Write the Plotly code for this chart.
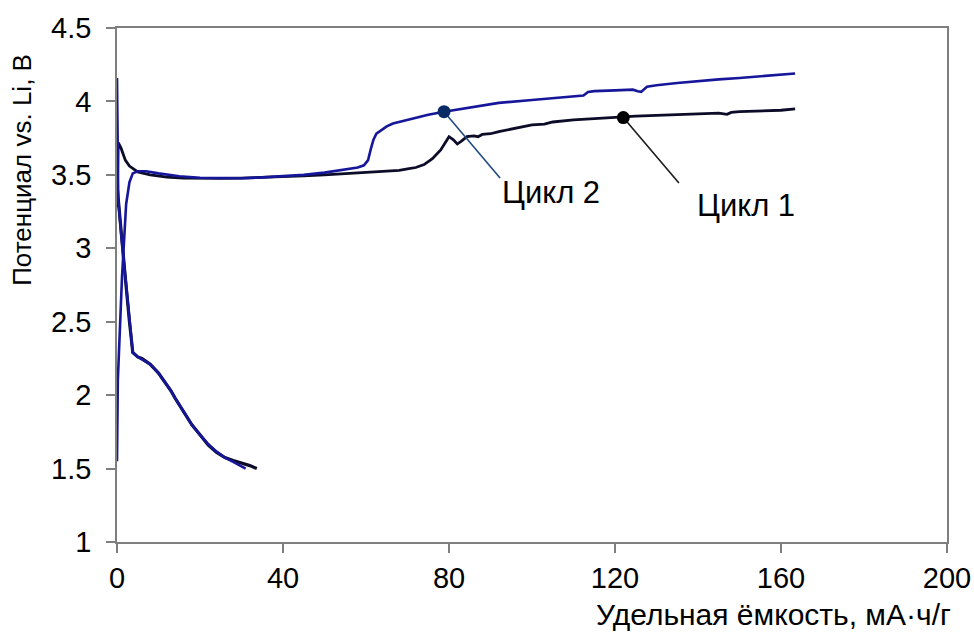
import plotly.graph_objects as go

# Cycle 1 (black) charge
c1_ch_x = [0, 0.3, 1, 2, 3, 5, 8, 12, 16, 20, 25, 30, 35, 40, 45, 50, 55, 60, 65, 68, 70, 72, 74, 76, 78, 79, 80, 81, 82, 83, 84.3, 86, 87, 88, 90, 92, 95, 97, 100, 103, 105, 110, 115, 120, 125, 130, 135, 140, 145, 147, 148, 150, 155, 160, 163.4]
c1_ch_y = [3.28, 3.72, 3.68, 3.6, 3.56, 3.52, 3.5, 3.485, 3.478, 3.475, 3.476, 3.478, 3.482, 3.487, 3.493, 3.5, 3.508, 3.515, 3.525, 3.53, 3.54, 3.55, 3.57, 3.61, 3.67, 3.72, 3.76, 3.74, 3.71, 3.73, 3.76, 3.765, 3.76, 3.775, 3.78, 3.795, 3.81, 3.82, 3.84, 3.845, 3.86, 3.875, 3.885, 3.892, 3.9, 3.905, 3.91, 3.915, 3.92, 3.912, 3.925, 3.93, 3.935, 3.94, 3.95]
# Cycle 1 (black) discharge
c1_dis_x = [0.1, 0.3, 1, 2, 3, 3.8, 5, 6, 7, 8, 9, 10, 11, 12, 13, 14, 16, 18, 20, 22, 24, 26, 28, 30, 32, 33.7]
c1_dis_y = [3.4, 3.33, 3.1, 2.8, 2.5, 2.29, 2.26, 2.25, 2.23, 2.21, 2.18, 2.15, 2.11, 2.07, 2.03, 1.98, 1.89, 1.80, 1.73, 1.66, 1.61, 1.575, 1.555, 1.54, 1.52, 1.5]
# Cycle 2 (blue) charge
c2_ch_x = [0, 0.2, 1.2, 2.2, 3, 3.8, 5, 7, 10, 15, 20, 25, 30, 35, 40, 45, 50, 55, 58, 59.5, 60.5, 61.2, 61.8, 62.5, 63.4, 65, 66.5, 70, 72, 75, 78.8, 85, 92, 100, 106, 112.4, 113.5, 115, 120, 124.3, 125.5, 126.3, 127.7, 130, 135, 140.5, 145, 150, 155, 160, 163.4]
c2_ch_y = [1.55, 2.1, 2.8, 3.3, 3.45, 3.51, 3.525, 3.525, 3.51, 3.49, 3.48, 3.477, 3.477, 3.483, 3.49, 3.5, 3.515, 3.535, 3.55, 3.565, 3.6, 3.68, 3.74, 3.78, 3.8, 3.83, 3.85, 3.875, 3.89, 3.91, 3.93, 3.96, 3.99, 4.01, 4.025, 4.04, 4.065, 4.07, 4.075, 4.08, 4.07, 4.065, 4.1, 4.11, 4.125, 4.14, 4.15, 4.16, 4.17, 4.185, 4.19]
# Cycle 2 (blue) discharge
c2_dis_x = [0, 0.1, 0.3, 1, 2, 3, 3.8, 5, 6, 7, 8, 9, 10, 11, 12, 13, 14, 16, 18, 20, 22, 24, 26, 28, 30, 31]
c2_dis_y = [4.16, 3.7, 3.33, 3.1, 2.8, 2.5, 2.29, 2.26, 2.245, 2.23, 2.21, 2.18, 2.15, 2.11, 2.07, 2.03, 1.98, 1.89, 1.80, 1.73, 1.665, 1.615, 1.575, 1.545, 1.515, 1.5]

# Label callouts
labels = ["Цикл 1", "Цикл 2"]
marker_x = [122, 78.8]
marker_y = [3.89, 3.93]
leader_end_x = [135.4, 92.3]
leader_end_y = [3.444, 3.478]
label_x = [151.6, 104.6]
label_y = [3.29, 3.38]

x_ticks = [0, 40, 80, 120, 160, 200]
y_ticks = [1, 1.5, 2, 2.5, 3, 3.5, 4, 4.5]

c1_color = "#0c0c28"
c2_color = "#16169a"
c1_marker = "#000000"
c2_marker = "#0a2a66"
c1_leader = "#1a1a1a"
c2_leader = "#1f4a80"

FONT = "Liberation Sans, Arial, sans-serif"

fig = go.Figure()
for xs, ys, col, w in [(c1_dis_x, c1_dis_y, c1_color, 3.2), (c1_ch_x, c1_ch_y, c1_color, 2.8),
                       (c2_dis_x, c2_dis_y, c2_color, 2.6), (c2_ch_x, c2_ch_y, c2_color, 2.6)]:
    fig.add_trace(go.Scatter(x=xs, y=ys, mode="lines", line=dict(color=col, width=w),
                             showlegend=False, hoverinfo="skip"))

for i, (mc, lc) in enumerate([(c1_marker, c1_leader), (c2_marker, c2_leader)]):
    fig.add_trace(go.Scatter(x=[marker_x[i], leader_end_x[i]], y=[marker_y[i], leader_end_y[i]],
                             mode="lines", line=dict(color=lc, width=1.6), showlegend=False))
    fig.add_trace(go.Scatter(x=[marker_x[i]], y=[marker_y[i]], mode="markers",
                             marker=dict(color=mc, size=13), showlegend=False))
    fig.add_annotation(x=label_x[i], y=label_y[i], text=labels[i], showarrow=False,
                       font=dict(family=FONT, size=31, color="#000000"))

axis_common = dict(showline=True, linecolor="#7f7f7f", linewidth=1.5, mirror=True,
                   ticks="outside", ticklen=9, tickcolor="#7f7f7f", tickwidth=1.5,
                   showgrid=False, zeroline=False, automargin=False,
                   tickfont=dict(family=FONT, size=29, color="#000000"))

fig.update_xaxes(range=[0, 200], tickvals=x_ticks, ticktext=[str(v) for v in x_ticks], **axis_common)
fig.update_yaxes(range=[1, 4.5], tickvals=y_ticks, ticktext=[f"{v:g}" for v in y_ticks],
                 ticklabelstandoff=9, **axis_common)

fig.add_annotation(xref="paper", yref="paper", x=-0.1145, y=0.724, text="Потенциал vs. Li, В",
                   textangle=-90, showarrow=False, xanchor="center", yanchor="middle",
                   font=dict(family=FONT, size=26, color="#000000"))
fig.add_annotation(xref="paper", yref="paper", x=1.0, y=-0.142, xshift=6, text="Удельная ёмкость, мА·ч/г",
                   showarrow=False, xanchor="right", yanchor="middle",
                   font=dict(family=FONT, size=30, color="#000000"))

fig.update_layout(width=974, height=632, margin=dict(l=117, r=27, t=28, b=90),
                  plot_bgcolor="#ffffff", paper_bgcolor="#ffffff")

fig.write_html("out.html")
